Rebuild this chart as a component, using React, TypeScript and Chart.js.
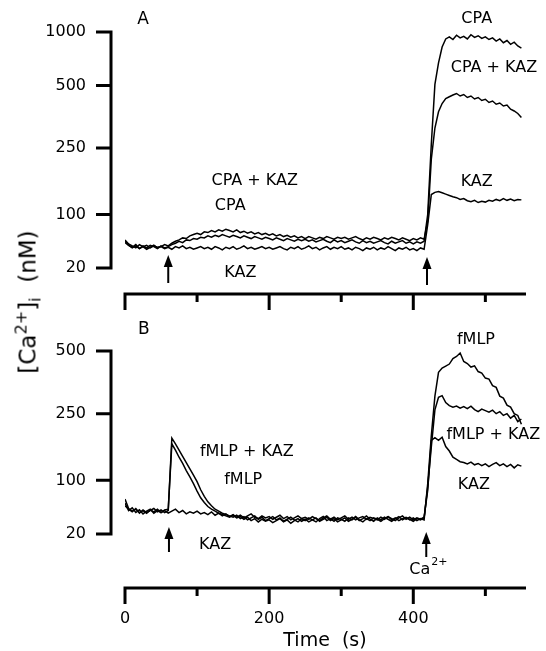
import React, { useEffect, useRef } from 'react';
import { Chart, registerables, LinearScale } from 'chart.js';

// ---------- data (time in s, [Ca2+]i in nM) ----------
const TIME = [
  0, 5, 10, 15, 20, 25, 30, 35, 40, 45,
  50, 55, 60, 65, 70, 75, 80, 85, 90, 95,
  100, 105, 110, 115, 120, 125, 130, 135, 140, 145,
  150, 155, 160, 165, 170, 175, 180, 185, 190, 195,
  200, 205, 210, 215, 220, 225, 230, 235, 240, 245,
  250, 255, 260, 265, 270, 275, 280, 285, 290, 295,
  300, 305, 310, 315, 320, 325, 330, 335, 340, 345,
  350, 355, 360, 365, 370, 375, 380, 385, 390, 395,
  400, 405, 410, 415, 420, 425, 430, 435, 440, 445,
  450, 455, 460, 465, 470, 475, 480, 485, 490, 495,
  500, 505, 510, 515, 520, 525, 530, 535, 540, 545,
  550,
];

// Panel A
const A_CPA = [
  58, 54, 51, 55, 49, 53, 50, 54, 52, 49,
  53, 50, 52, 55, 57, 60, 58, 62, 61, 64,
  63, 66, 65, 68, 66, 69, 67, 70, 68, 66,
  69, 67, 65, 68, 66, 64, 67, 65, 63, 66,
  64, 62, 65, 63, 61, 64, 62, 60, 63, 61,
  63, 60, 62, 59, 61, 63, 60, 58, 62, 59,
  61, 58, 60, 62, 59, 57, 61, 58, 60, 57,
  59, 61, 58, 56, 60, 57, 59, 61, 57, 59,
  56, 59, 57, 60, 100, 265, 510, 712, 860, 935,
  955, 930, 970, 945, 960, 935, 975, 950, 965, 940,
  955, 930, 945, 915, 935, 900, 920, 885, 905, 870,
  850,
];
const A_CPA_KAZ = [
  62, 56, 53, 50, 55, 52, 54, 50, 53, 51,
  52, 55, 53, 57, 60, 62, 65, 64, 68, 70,
  72, 70, 74, 73, 76, 74, 77, 75, 78, 76,
  74, 77, 73, 75, 72, 74, 71, 73, 70, 72,
  69, 71, 68, 70, 67, 69, 66, 68, 65, 67,
  64, 67, 65, 63, 66, 64, 67, 65, 63, 66,
  64, 66, 63, 65, 67, 64, 62, 65, 63, 66,
  64, 62, 65, 63, 66, 64, 62, 65, 63, 61,
  64, 62, 65, 63, 90, 225, 330, 395, 428, 448,
  455, 462, 468, 458, 464, 452, 458, 446, 452, 440,
  445, 432, 438, 425, 430, 418, 422, 405, 398, 388,
  372,
];
const A_KAZ = [
  60, 54, 50, 53, 49, 52, 48, 51, 54, 50,
  52, 49, 51, 48, 52, 50, 53, 49, 51, 48,
  50, 52, 49, 51, 48, 52, 50, 47, 51, 49,
  52, 48, 50, 53, 49, 51, 48, 50, 52, 49,
  51, 48, 50, 52, 49, 47, 51, 49, 52, 48,
  50, 53, 49, 51, 47, 50, 52, 48, 51, 49,
  52, 48, 50, 47, 51, 49, 46, 50, 48, 51,
  47, 50, 48, 52, 49, 46, 50, 48, 51, 47,
  49, 46, 50, 48, 85, 145, 150, 152, 149, 146,
  143, 140, 138, 134, 136, 131, 129, 132, 127, 130,
  128, 132, 130, 134, 131, 136, 132, 135, 131, 134,
  133,
];

// Panel B
const B_FMLP = [
  66, 55, 59, 52, 56, 50, 54, 57, 51, 55,
  52, 56, 57, 182, 168, 152, 138, 122, 108, 95,
  84, 74, 67, 61, 57, 54, 51, 49, 47, 45,
  48, 44, 46, 42, 45, 40, 43, 38, 42, 39,
  41, 37, 40, 43, 38, 41, 36, 40, 43, 39,
  42, 38, 41, 44, 39, 42, 45, 40, 43, 38,
  41, 44, 39, 42, 46, 41, 38, 43, 40, 44,
  42, 39, 43, 46, 41, 44, 40, 43, 45, 41,
  44, 40, 43, 41, 95, 200, 320, 415, 432, 440,
  448, 470, 478, 492, 458, 450, 436, 441, 418, 412,
  392, 388, 362, 355, 320, 312, 284, 276, 250, 246,
  226,
];
const B_FMLP_KAZ = [
  62, 57, 53, 58, 51, 56, 52, 55, 58, 53,
  56, 52, 55, 195, 182, 168, 154, 140, 126, 112,
  98, 86, 76, 68, 62, 57, 54, 51, 49, 47,
  45, 48, 43, 46, 41, 44, 47, 42, 45, 40,
  43, 46, 41, 44, 39, 42, 45, 41, 38, 43,
  40, 44, 41, 38, 43, 46, 40, 43, 39, 44,
  42, 39, 44, 41, 45, 40, 43, 47, 42, 39,
  44, 41, 45, 42, 39, 43, 46, 41, 44, 42,
  39, 43, 41, 44, 90, 175, 265, 315, 322, 294,
  282, 276, 280, 272, 278, 270, 280, 266, 258, 268,
  262, 256, 264, 250, 258, 246, 250, 240, 246, 232,
  238,
];
const B_KAZ = [
  72, 58, 54, 57, 52, 55, 51, 56, 53, 57,
  52, 55, 51, 54, 57, 52, 55, 50, 53, 51,
  54, 50, 52, 49, 53, 48, 51, 47, 50, 46,
  49, 45, 48, 44, 47, 50, 45, 43, 47, 44,
  46, 42, 45, 48, 43, 46, 41, 44, 47, 43,
  45, 42, 46, 43, 40, 44, 47, 42, 45, 41,
  44, 47, 42, 45, 41, 44, 46, 42, 45, 43,
  41, 45, 42, 46, 43, 40, 44, 47, 42, 45,
  41, 44, 42, 45, 85, 190, 196, 190, 197, 176,
  166, 152, 147, 142, 140, 137, 141, 135, 138, 133,
  137, 131, 136, 140, 133, 137, 131, 136, 128, 135,
  132,
];

// axes
const TICKS_A = [20, 100, 250, 500, 1000];
const TICKS_B = [20, 100, 250, 500];
const X_TICKS = [0, 100, 200, 300, 400, 500];
const X_LABELED = [0, 200, 400];
const X_MAX = 555;

// non-linear calibration of the [Ca2+] axis (relative spacing of calibration values)
const CAL_VALUES = [20, 100, 250, 500, 1000];
const CAL_UNITS = [0, 53.5, 120, 182.5, 236];

// annotations (time s, [Ca2+] nM)
const LABELS_A = [
  { text: 'A', t: 25, ca: 1120, size: 17 },
  { text: 'CPA', t: 488, ca: 1120 },
  { text: 'CPA + KAZ', t: 512, ca: 664 },
  { text: 'KAZ', t: 488, ca: 173 },
  { text: 'CPA + KAZ', t: 180, ca: 175 },
  { text: 'CPA', t: 146, ca: 119 },
  { text: 'KAZ', t: 160, ca: 12.5 },
];
const LABELS_B = [
  { text: 'B', t: 26, ca: 701, size: 17 },
  { text: 'fMLP', t: 487, ca: 607 },
  { text: 'fMLP + KAZ', t: 511, ca: 203 },
  { text: 'KAZ', t: 484, ca: 93 },
  { text: 'fMLP + KAZ', t: 169, ca: 164 },
  { text: 'fMLP', t: 164, ca: 101 },
  { text: 'KAZ', t: 125, ca: 3.5 },
];
const ARROWS_A = [60, 419];
const ARROWS_B = [61, 418];

// ---------- helpers ----------
function caToUnit(v: number): number {
  const V = CAL_VALUES, U = CAL_UNITS;
  let i = 0;
  if (v >= V[V.length - 1]) i = V.length - 2;
  else if (v > V[0]) { while (v > V[i + 1]) i++; }
  return U[i] + ((v - V[i]) * (U[i + 1] - U[i])) / (V[i + 1] - V[i]);
}
function unitToCa(u: number): number {
  const V = CAL_VALUES, U = CAL_UNITS;
  let i = 0;
  if (u >= U[U.length - 1]) i = U.length - 2;
  else if (u > U[0]) { while (u > U[i + 1]) i++; }
  return V[i] + ((u - U[i]) * (V[i + 1] - V[i])) / (U[i + 1] - U[i]);
}

class CalciumScale extends LinearScale {
  static id = 'calcium';
  static defaults = LinearScale.defaults;
  getPixelForValue(value: any) {
    if (value === null || value === undefined || Number.isNaN(value)) return NaN;
    const u0 = caToUnit((this as any).min), u1 = caToUnit((this as any).max);
    return (this as any).getPixelForDecimal((caToUnit(value) - u0) / (u1 - u0));
  }
  getValueForPixel(pixel: number) {
    const u0 = caToUnit((this as any).min), u1 = caToUnit((this as any).max);
    return unitToCa(u0 + (this as any).getDecimalForPixel(pixel) * (u1 - u0));
  }
}

Chart.register(...registerables, CalciumScale as any);

const FONT = "'DejaVu Sans', sans-serif";

const decoPlugin = {
  id: 'panelDeco',
  afterDraw(chart: any, _args: any, opts: any) {
    const { ctx, chartArea } = chart;
    const x = chart.scales.x, y = chart.scales.y;
    ctx.save();
    ctx.strokeStyle = '#000';
    ctx.fillStyle = '#000';
    ctx.lineWidth = 3;
    ctx.lineCap = 'butt';
    ctx.beginPath();
    // detached y axis
    const ax = chartArea.left - opts.yGap;
    const yTop = y.getPixelForValue(y.max);
    const yBot = y.getPixelForValue(y.min);
    ctx.moveTo(ax, yTop - 1.5);
    ctx.lineTo(ax, yBot + 1.5);
    for (const tk of y.ticks) {
      const py = y.getPixelForValue(tk.value);
      ctx.moveTo(ax + 1.5, py);
      ctx.lineTo(ax - 15, py);
    }
    // detached x axis
    const ay = chartArea.bottom + opts.xGap;
    const x0 = x.getPixelForValue(x.min);
    ctx.moveTo(x0 - 1.5, ay);
    ctx.lineTo(chartArea.right + 1, ay);
    for (const tk of x.ticks) {
      const px = x.getPixelForValue(tk.value);
      const len = X_LABELED.includes(tk.value) ? 16 : 8;
      ctx.moveTo(px, ay - 1.5);
      ctx.lineTo(px, ay + len);
    }
    ctx.stroke();

    // arrows
    opts.arrows.forEach((t: number, i: number) => {
      const px = x.getPixelForValue(t);
      const tip = chartArea.bottom + opts.arrowTips[i];
      ctx.lineWidth = 2;
      ctx.beginPath();
      ctx.moveTo(px, tip + 10);
      ctx.lineTo(px, tip + opts.arrowLen);
      ctx.stroke();
      ctx.beginPath();
      ctx.moveTo(px, tip);
      ctx.lineTo(px - 4.5, tip + 12);
      ctx.lineTo(px + 4.5, tip + 12);
      ctx.closePath();
      ctx.fill();
    });

    // labels
    ctx.textAlign = 'center';
    ctx.textBaseline = 'middle';
    for (const lb of opts.labels) {
      ctx.font = `${lb.size || 16}px ${FONT}`;
      ctx.fillText(lb.text, x.getPixelForValue(lb.t), y.getPixelForValue(lb.ca));
    }
    if (opts.caLabel) {
      const cx = x.getPixelForValue(opts.caLabel.t);
      const cy = chartArea.bottom + opts.caLabel.dy;
      ctx.font = `16px ${FONT}`;
      ctx.fillText('Ca', cx, cy);
      const w = ctx.measureText('Ca').width;
      ctx.font = `11px ${FONT}`;
      ctx.textAlign = 'left';
      ctx.fillText('2+', cx + w / 2 + 1, cy - 8);
    }
    ctx.restore();
  },
};

function series(values: number[]) {
  return TIME.map((t, i) => ({ x: t, y: values[i] }));
}

function line(values: number[]) {
  return {
    data: series(values),
    borderColor: '#000',
    borderWidth: 1.5,
    pointRadius: 0,
    fill: false,
    tension: 0,
  };
}

function noPad(s: any) {
  s.paddingTop = 0;
  s.paddingBottom = 0;
  s.paddingLeft = 0;
  s.paddingRight = 0;
}

function makeConfig(panel: 'A' | 'B') {
  const isA = panel === 'A';
  const datasets = isA
    ? [line(A_CPA), line(A_CPA_KAZ), line(A_KAZ)]
    : [line(B_FMLP), line(B_FMLP_KAZ), line(B_KAZ)];
  return {
    type: 'line',
    data: { datasets },
    plugins: [decoPlugin],
    options: {
      animation: false,
      responsive: false,
      events: [],
      layout: { padding: { left: 0, right: 21, top: isA ? 32 : 31, bottom: 0 } },
      plugins: {
        legend: { display: false },
        tooltip: { enabled: false },
        panelDeco: {
          yGap: 14,
          xGap: isA ? 26 : 54,
          labels: isA ? LABELS_A : LABELS_B,
          arrows: isA ? ARROWS_A : ARROWS_B,
          arrowTips: isA ? [-13, -11] : [-7, -2],
          arrowLen: isA ? 28 : 25,
          caLabel: isA ? null : { t: 409, dy: 36 },
        },
      },
      scales: {
        x: {
          type: 'linear',
          min: 0,
          max: X_MAX,
          grid: { display: false, drawTicks: false },
          border: { display: false },
          afterBuildTicks: (s: any) => { s.ticks = X_TICKS.map((v) => ({ value: v })); },
          afterFit: (s: any) => { s.height = isA ? 52 : 117; noPad(s); },
          ticks: {
            display: !isA,
            autoSkip: false,
            maxRotation: 0,
            padding: 77,
            color: '#000',
            font: { family: FONT, size: 16, lineHeight: 1 },
            callback: (v: any) => (X_LABELED.includes(Number(v)) ? String(v) : ''),
          },
          title: {
            display: !isA,
            text: 'Time  (s)',
            color: '#000',
            font: { family: FONT, size: 19, lineHeight: 1 },
            padding: { top: 0, bottom: 0 },
          },
        },
        y: {
          type: 'calcium',
          min: 20,
          max: isA ? 1000 : 500,
          grid: { display: false, drawTicks: false },
          border: { display: false },
          afterBuildTicks: (s: any) => { s.ticks = (isA ? TICKS_A : TICKS_B).map((v) => ({ value: v })); },
          afterFit: (s: any) => { s.width = 125; noPad(s); },
          ticks: {
            autoSkip: false,
            padding: 39,
            color: '#000',
            font: { family: FONT, size: 16 },
            callback: (v: any) => String(v),
          },
        },
      },
    },
  };
}

export default function App() {
  const refA = useRef<HTMLCanvasElement | null>(null);
  const refB = useRef<HTMLCanvasElement | null>(null);

  useEffect(() => {
    const a = new Chart(refA.current as HTMLCanvasElement, makeConfig('A') as any);
    const b = new Chart(refB.current as HTMLCanvasElement, makeConfig('B') as any);
    return () => {
      a.destroy();
      b.destroy();
    };
  }, []);

  return (
    <div style={{ position: 'absolute', left: 0, top: 0, width: 546, height: 651, background: '#fff', overflow: 'hidden' }}>
      <canvas ref={refA} width={546} height={320} style={{ position: 'absolute', left: 0, top: 0, width: 546, height: 320 }} />
      <canvas ref={refB} width={546} height={331} style={{ position: 'absolute', left: 0, top: 320, width: 546, height: 331 }} />
      <div
        style={{
          position: 'absolute',
          left: 28,
          top: 302,
          transform: 'translate(-50%, -50%) rotate(-90deg)',
          whiteSpace: 'nowrap',
          fontFamily: FONT,
          fontSize: 23,
          lineHeight: 1,
          color: '#000',
        }}
      >
        [Ca<sup style={{ fontSize: '0.7em', verticalAlign: '0.55em', lineHeight: 0 }}>2+</sup>]
        <sub style={{ fontSize: '0.7em', verticalAlign: '-0.3em', lineHeight: 0 }}>i</sub>
        {'\u00a0\u00a0(nM)'}
      </div>
    </div>
  );
}
